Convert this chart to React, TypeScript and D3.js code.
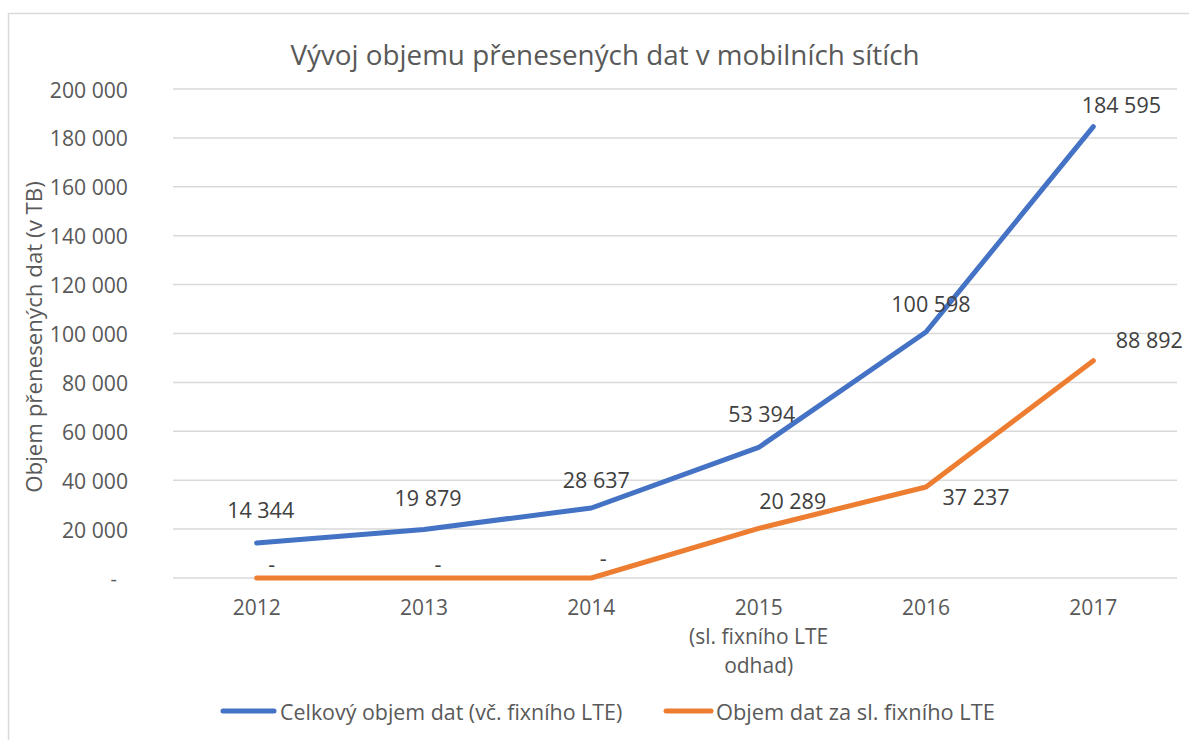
import React from "react";
import * as d3 from "d3";

const categories: string[][] = [
  ["2012"],
  ["2013"],
  ["2014"],
  ["2015", "(sl. fixního LTE", "odhad)"],
  ["2016"],
  ["2017"],
];
const totalValues = [14344, 19879, 28637, 53394, 100598, 184595];
const lteValues = [0, 0, 0, 20289, 37237, 88892];
const yTicks = [0, 20000, 40000, 60000, 80000, 100000, 120000, 140000, 160000, 180000, 200000];
const seriesNames = ["Celkový objem dat (vč. fixního LTE)", "Objem dat za sl. fixního LTE"];
const title = "Vývoj objemu přenesených dat v mobilních sítích";
const yTitle = "Objem přenesených dat (v TB)";

// label offsets (layout, px) relative to data point
const totalLabelOffsets = [
  [4, -33],
  [4, -32],
  [5, -28],
  [3, -34],
  [5, -29],
  [28, -22],
];
const lteLabelOffsets = [
  [15, -15],
  [14, -15],
  [12, -21],
  [34, -28],
  [50, 10],
  [56, -21],
];

const fmt = (v: number) => (v === 0 ? "-" : d3.format(",")(v).replace(/,/g, " "));

export default function App() {
  const W = 1189;
  const H = 740;
  const left = 173;
  const right = 1177;
  const x = d3
    .scaleBand<number>()
    .domain(d3.range(categories.length))
    .range([left, right]);
  const y = d3.scaleLinear().domain([0, 200000]).range([578, 89]);
  const cx = (i: number) => (x(i) as number) + x.bandwidth() / 2;
  const line = d3
    .line<number>()
    .x((_, i) => cx(i))
    .y((d) => y(d));

  const font = "'Open Sans', sans-serif";
  const textColor = "#595959";
  const labelColor = "#404040";
  const blue = "#4472C4";
  const orange = "#ED7D31";

  return (
    <svg
      width={W}
      height={H}
      style={{ position: "absolute", left: 0, top: 0, display: "block", background: "#fff" }}
      fontFamily={font}
    >
      <rect x={8.5} y={13.5} width={W + 20} height={H + 20} fill="#fff" stroke="#d9d9d9" strokeWidth={1.5} />
      <text x={605} y={54} textAnchor="middle" dominantBaseline="central" fontSize={27.8} fill={textColor}>
        {title}
      </text>
      {yTicks.map((t) => (
        <g key={t}>
          <line x1={left} x2={right} y1={y(t)} y2={y(t)} stroke="#d9d9d9" strokeWidth={1.5} />
          <text
            x={t === 0 ? 117 : 128}
            y={y(t)}
            textAnchor="end"
            dominantBaseline="central"
            fontSize={t === 0 ? 20 : 21.2}
            fill={textColor}
          >
            {fmt(t)}
          </text>
        </g>
      ))}
      <text
        transform={`translate(33,337) rotate(-90)`}
        textAnchor="middle"
        dominantBaseline="central"
        fontSize={22.3}
        fill={textColor}
      >
        {yTitle}
      </text>
      {categories.map((c, i) => (
        <text key={i} x={cx(i)} y={607} textAnchor="middle" dominantBaseline="central" fontSize={21} fill={textColor}>
          {c.map((s, j) => (
            <tspan key={j} x={cx(i)} dy={j === 0 ? 0 : 29}>
              {s}
            </tspan>
          ))}
        </text>
      ))}
      <path d={line(lteValues) || ""} fill="none" stroke={orange} strokeWidth={5} strokeLinecap="round" strokeLinejoin="round" />
      <path d={line(totalValues) || ""} fill="none" stroke={blue} strokeWidth={5} strokeLinecap="round" strokeLinejoin="round" />
      {totalValues.map((v, i) => (
        <text
          key={"t" + i}
          x={cx(i) + totalLabelOffsets[i][0]}
          y={y(v) + totalLabelOffsets[i][1]}
          textAnchor="middle"
          dominantBaseline="central"
          fontSize={21.5}
          fill={labelColor}
        >
          {fmt(v)}
        </text>
      ))}
      {lteValues.map((v, i) => (
        <text
          key={"l" + i}
          x={cx(i) + lteLabelOffsets[i][0]}
          y={y(v) + lteLabelOffsets[i][1]}
          textAnchor="middle"
          dominantBaseline="central"
          fontSize={21.5}
          fill={labelColor}
        >
          {fmt(v)}
        </text>
      ))}
      <g>
        <line x1={223} x2={274} y1={711} y2={711} stroke={blue} strokeWidth={5} strokeLinecap="round" />
        <text x={280} y={711} dominantBaseline="central" fontSize={21.4} fill={textColor}>
          {seriesNames[0]}
        </text>
        <line x1={666} x2={711} y1={711} y2={711} stroke={orange} strokeWidth={5} strokeLinecap="round" />
        <text x={716} y={711} dominantBaseline="central" fontSize={21.8} fill={textColor}>
          {seriesNames[1]}
        </text>
      </g>
    </svg>
  );
}
